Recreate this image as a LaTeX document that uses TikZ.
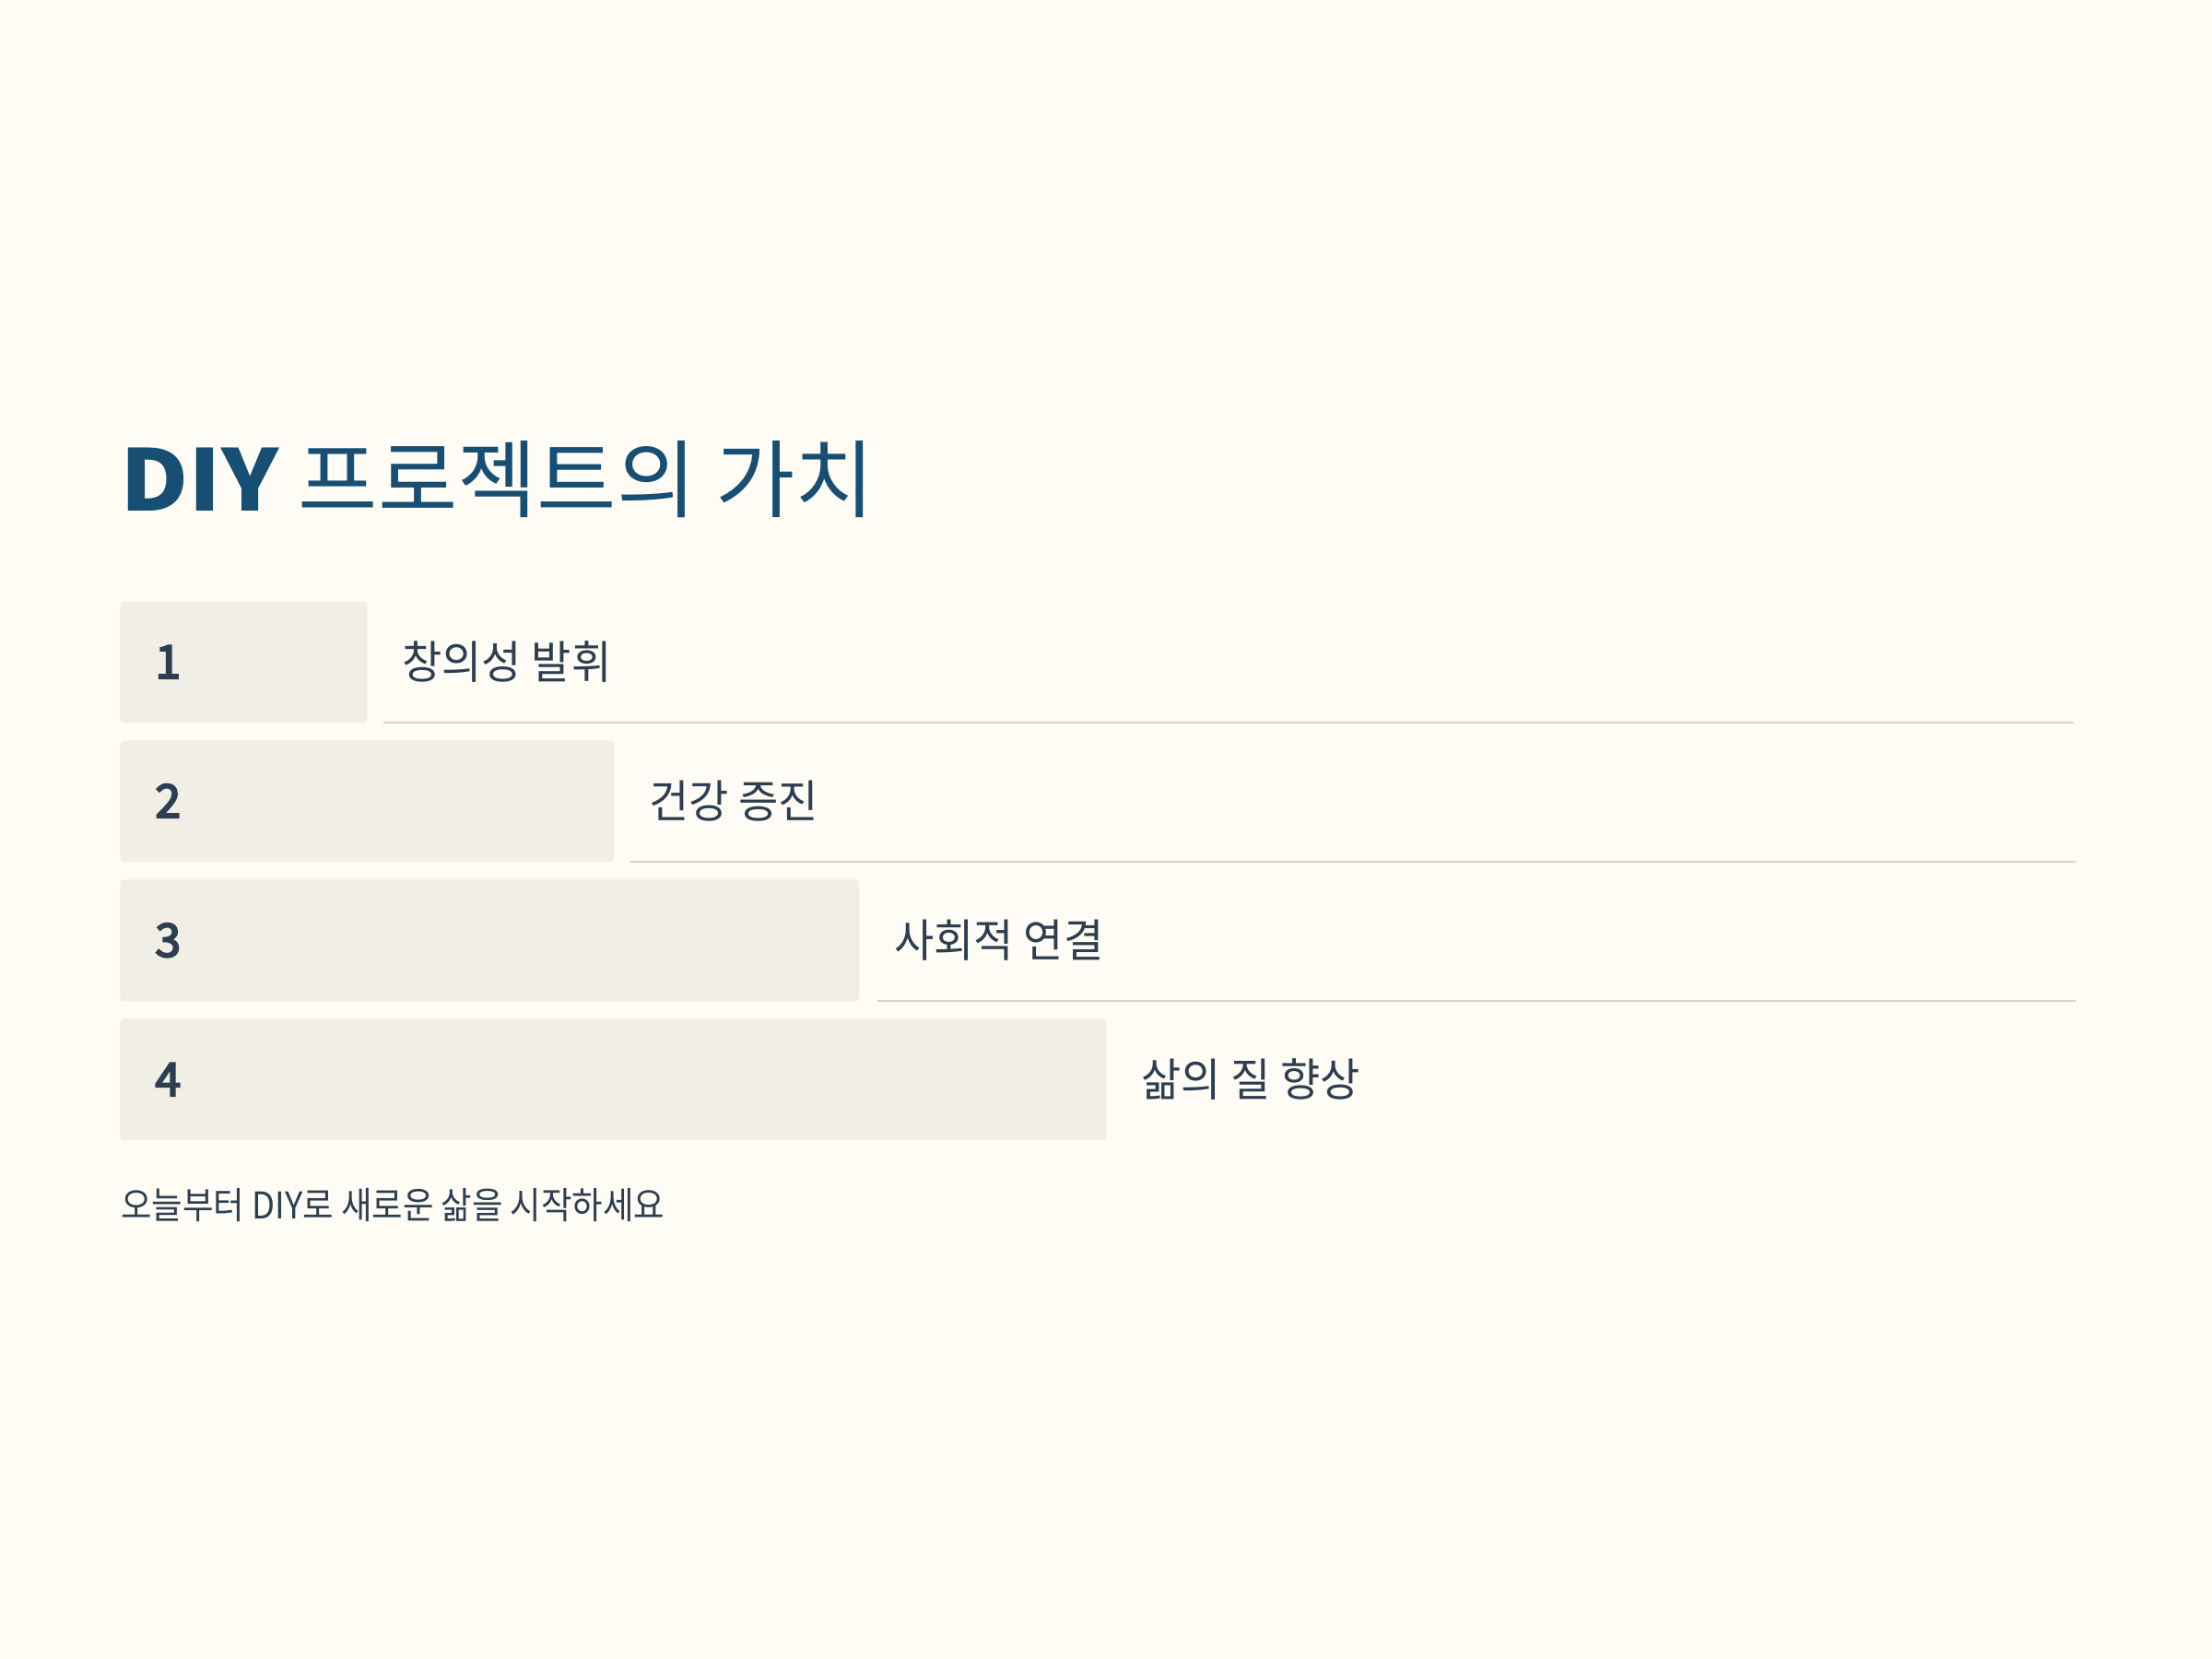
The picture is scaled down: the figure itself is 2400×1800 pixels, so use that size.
\documentclass[tikz,border=0pt]{standalone}
\usepackage{fontspec}
\setmainfont{Noto Sans CJK KR}
\newfontfamily\titlefont{Noto Sans CJK KR}[FakeStretch=1.02]
\newfontfamily\diyfont{Noto Sans CJK KR}[FakeStretch=1.11]
\newfontfamily\bodyfont{Noto Sans CJK KR}[FakeStretch=0.96]
\newfontfamily\footfont{Noto Sans CJK KR}[FakeStretch=0.91]
\newfontfamily\numfont{Noto Sans CJK KR}[FakeBold=4]
\definecolor{pagebg}{HTML}{FFFCF5}
\definecolor{barfill}{HTML}{F1EEE5}
\definecolor{rulecol}{HTML}{D6D3C8}
\definecolor{inkcol}{HTML}{2C3E50}
\definecolor{titlecol}{HTML}{164F73}
\tikzset{
  valuebar/.style={fill=barfill,rounded corners=2pt,inner sep=0pt,anchor=north west,minimum height=66pt},
  numtext/.style={anchor=base west,inner sep=0pt,text=inkcol,font=\numfont\fontsize{25}{30}\selectfont},
  valuetext/.style={anchor=base west,inner sep=0pt,text=inkcol,font=\bodyfont\fontsize{24.5}{30}\selectfont},
  underrule/.style={draw=rulecol,line width=1pt},
}
\begin{document}
\begin{tikzpicture}[x=0.5pt,y=-0.5pt]
  \fill [pagebg] (0,0) rectangle (2400,1800);
  \useasboundingbox (0,0) rectangle (2400,1800);
%%
  % Title
  \node [anchor=base west,inner sep=0pt,text=titlecol,font=\titlefont\fontsize{46}{55}\selectfont]
    (title) at (130,554) {{\diyfont\bfseries DIY} 프로젝트의 가치};
  % Bar: 1
  \node [valuebar,minimum width=134pt] (bar1) at (130,652) {};
  \node [numtext] (num1) at (168,736) {1};
  \node [valuetext] (val1) at (436,736) {창의성 발휘};
  \coordinate (rule1a) at (416,784);
  \coordinate (rule1b) at (2250,784);
  \draw [underrule] (rule1a) -- (rule1b);
  % Bar: 2
  \node [valuebar,minimum width=268pt] (bar2) at (130,803) {};
  \node [numtext] (num2) at (168,887) {2};
  \node [valuetext] (val2) at (704,887) {건강 증진};
  \coordinate (rule2a) at (684,935);
  \coordinate (rule2b) at (2252,935);
  \draw [underrule] (rule2a) -- (rule2b);
  % Bar: 3
  \node [valuebar,minimum width=401pt] (bar3) at (130,954) {};
  \node [numtext] (num3) at (168,1038) {3};
  \node [valuetext] (val3) at (970,1038) {사회적 연결};
  \coordinate (rule3a) at (952,1086);
  \coordinate (rule3b) at (2252,1086);
  \draw [underrule] (rule3a) -- (rule3b);
  % Bar: 4
  \node [valuebar,minimum width=535pt] (bar4) at (130,1105) {};
  \node [numtext] (num4) at (168,1189) {4};
  \node [valuetext] (val4) at (1238,1189) {삶의 질 향상};
  % Footer
  \node [anchor=base west,inner sep=0pt,text=inkcol,font=\footfont\fontsize{20}{24}\selectfont]
    (footer) at (131,1322) {오늘부터 DIY로 새로운 삶을 시작하세요};
%
\end{tikzpicture}
\end{document}
